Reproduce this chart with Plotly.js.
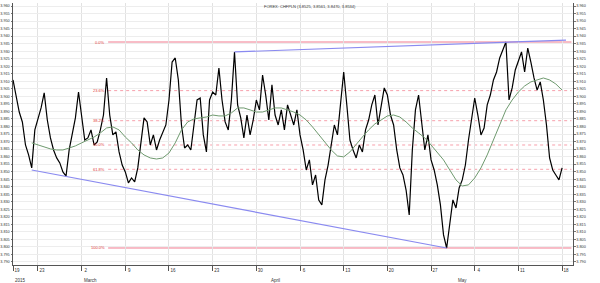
<!DOCTYPE html>
<html>
<head>
<meta charset="utf-8">
<script src="https://cdn.plot.ly/plotly-3.0.1.min.js"></script>
<style>html,body{margin:0;padding:0;background:#fff;}#chart{width:600px;height:283px;}</style>
</head>
<body>
<div id="chart"></div>
<script>
// ---- data ----
const seriesStart = "2015-02-19T00:00:00Z";   // first bar
const barHours = 12;                            // bar spacing
const close = [
3.9109,3.9009,3.8896,3.8830,3.8677,3.8611,3.8525,3.8777,3.8857,3.8923,
3.9023,3.8843,3.8724,3.8644,3.8591,3.8558,3.8498,3.8471,3.8644,3.8744,
3.8857,3.9029,3.8876,3.8710,3.8724,3.8777,3.8677,3.8697,3.8777,3.8876,
3.9122,3.8876,3.8744,3.8764,3.8631,3.8544,3.8498,3.8425,3.8458,3.8432,
3.8525,3.8710,3.8857,3.8830,3.8677,3.8744,3.8644,3.8710,3.8764,3.8810,
3.8976,3.9228,3.9255,3.9109,3.8810,3.8657,3.8677,3.8644,3.8810,3.8976,
3.8989,3.8744,3.8631,3.8976,3.9029,3.9009,3.9188,3.8976,3.8830,3.8777,
3.8976,3.9295,3.8943,3.8857,3.8724,3.8876,3.8744,3.8843,3.8976,3.8910,
3.9142,3.9009,3.8843,3.9076,3.8876,3.8810,3.8910,3.8777,3.8943,3.8876,
3.8810,3.8910,3.8744,3.8644,3.8511,3.8578,3.8412,3.8478,3.8312,3.8279,
3.8445,3.8544,3.8677,3.8810,3.8744,3.8943,3.9162,3.8943,3.8710,3.8644,
3.8591,3.8677,3.8631,3.8777,3.8843,3.8943,3.9009,3.8810,3.8943,3.9056,
3.9009,3.8876,3.8810,3.8644,3.8525,3.8478,3.8378,3.8212,3.8644,3.8910,
3.9009,3.8843,3.8644,3.8744,3.8578,3.8511,3.8412,3.8279,3.8080,3.7993,
3.8146,3.8312,3.8259,3.8392,3.8445,3.8544,3.8710,3.8857,3.8989,3.8876,
3.8744,3.8790,3.8943,3.9009,3.9109,3.9162,3.9255,3.9308,3.9361,3.8976,
3.9056,3.9175,3.9242,3.9295,3.9162,3.9321,3.9228,3.9122,3.9042,3.9096,
3.8976,3.8810,3.8591,3.8511,3.8478,3.8445,3.8525
];
const smaStart = "2015-02-22T00:00:00Z";
const smaHours = 24;
const sma = [
3.8691,3.8677,3.8664,3.8651,3.8644,3.8644,3.8657,3.8671,3.8691,3.8710,
3.8730,3.8757,3.8790,3.8797,3.8777,3.8730,3.8691,3.8644,3.8611,3.8591,
3.8584,3.8591,3.8624,3.8691,3.8777,3.8830,3.8850,3.8857,3.8863,3.8876,
3.8870,3.8870,3.8890,3.8923,3.8923,3.8910,3.8896,3.8896,3.8910,3.8923,
3.8923,3.8910,3.8896,3.8876,3.8843,3.8797,3.8744,3.8691,3.8644,3.8604,
3.8598,3.8631,3.8677,3.8730,3.8777,3.8817,3.8843,3.8870,3.8876,3.8863,
3.8830,3.8790,3.8757,3.8724,3.8677,3.8631,3.8578,3.8511,3.8445,3.8405,
3.8412,3.8458,3.8525,3.8611,3.8710,3.8810,3.8910,3.8976,3.9029,3.9069,
3.9096,3.9109,3.9122,3.9109,3.9082,3.9042
];
const lowerTrendDates = ["2015-02-22 00:00", "2015-04-29 12:00"];
const lowerTrendPrices = [3.8511, 3.7993];
const upperTrendDates = ["2015-03-26 12:00", "2015-05-18 15:00"];
const upperTrendPrices = [3.9295, 3.9374];
const fibHigh = 3.9361, fibLow = 3.7993;
const fibPct = [0, 23.6, 38.2, 50.0, 61.8, 100.0];
const fibLabels = ["0.0%", "23.6%", "38.2%", "50.0%", "61.8%", "100.0%"];
const fibFrom = "2015-03-06 06:00", fibTo = "2015-05-19 12:00";
const tickDates = ["2015-02-19","2015-02-23","2015-03-02","2015-03-09","2015-03-16","2015-03-23","2015-03-30",
  "2015-04-06","2015-04-13","2015-04-20","2015-04-27","2015-05-04","2015-05-11","2015-05-18"];
const tickLabels = ["19","23","2","9","16","23","30","6","13","20","27","4","11","18"];
const periodDates = ["2015-02-19","2015-03-02","2015-04-01","2015-05-01"];
const periodLabels = ["2015","March","April","May"];
const titleText = "FOREX: CHFPLN (3.8525, 3.8561, 3.8470, 3.8534)";

// ---- build ----
function dates(start, hours, n) {
  const t0 = Date.parse(start), out = [];
  for (let i = 0; i < n; i++) out.push(new Date(t0 + i * hours * 3600000).toISOString().slice(0,16).replace('T',' '));
  return out;
}
const xClose = dates(seriesStart, barHours, close.length);
const xSma = dates(smaStart, smaHours, sma.length);

const traces = [
  {x: xClose, y: close, type: 'scatter', mode: 'lines', line: {color: '#000', width: 1.2}, hoverinfo: 'skip'},
  {x: xSma, y: sma, type: 'scatter', mode: 'lines', line: {color: '#6f9a6f', width: 1}, yaxis: 'y2', hoverinfo: 'skip'},
  {x: lowerTrendDates, y: lowerTrendPrices, type: 'scatter', mode: 'lines', line: {color: '#8a8af0', width: 1.2}, hoverinfo: 'skip'},
  {x: upperTrendDates, y: upperTrendPrices, type: 'scatter', mode: 'lines', line: {color: '#8a8af0', width: 1.2}, hoverinfo: 'skip'}
];

const shapes = [], annotations = [];
fibPct.forEach((p, i) => {
  const lvl = fibHigh - (fibHigh - fibLow) * p / 100;
  const solid = (p === 0 || p === 100);
  shapes.push({type: 'line', xref: 'x', yref: 'y', x0: fibFrom, x1: fibTo, y0: lvl, y1: lvl,
    line: {color: solid ? '#f07a8e' : '#f7a0ac', width: 1, dash: solid ? 'solid' : 'dot'}, layer: 'below'});
  annotations.push({xref: 'x', yref: 'y', x: fibFrom, y: lvl, text: fibLabels[i], showarrow: false,
    xanchor: 'right', yanchor: 'middle', xshift: -1, font: {size: 4, color: '#e03a3a', family: 'Liberation Sans'}});
});
periodDates.forEach((d, i) => {
  annotations.push({xref: 'x', yref: 'paper', x: d, y: 0, yshift: -11, text: periodLabels[i], showarrow: false,
    xanchor: 'left', yanchor: 'top', font: {size: 4.5, color: '#333', family: 'Liberation Sans'}});
});
annotations.push({xref: 'paper', yref: 'paper', x: 0.53, y: 1, yshift: 1, text: titleText, showarrow: false,
  xanchor: 'center', yanchor: 'top', font: {size: 4, color: '#333', family: 'Liberation Sans'}});

const yBase = {range: [3.788, 3.962], dtick: 0.005, tick0: 3.79, tickformat: '.3f', showgrid: true,
  gridcolor: '#ededed', gridwidth: 1, zeroline: false, showline: true, linecolor: '#555', linewidth: 1,
  ticks: 'outside', ticklen: 1.5, tickcolor: '#777', ticklabelstandoff: 0,
  tickfont: {size: 3.8, color: '#333', family: 'Liberation Sans'}, fixedrange: true};

const layout = {
  width: 600, height: 283,
  margin: {l: 13, r: 27, t: 3, b: 18},
  paper_bgcolor: '#fff', plot_bgcolor: '#fff',
  showlegend: false,
  xaxis: {type: 'date', range: ["2015-02-19 00:00", "2015-05-19 18:00"], tickvals: tickDates, ticktext: tickLabels,
    showgrid: true, gridcolor: '#e2e2e2', gridwidth: 1, zeroline: false, showline: true, linecolor: '#555', linewidth: 1,
    ticks: 'outside', ticklen: 5, tickcolor: '#555', ticklabelshift: 4, ticklabelstandoff: -4,
    tickfont: {size: 4.5, color: '#333', family: 'Liberation Sans'}, fixedrange: true},
  yaxis: Object.assign({}, yBase, {side: 'left'}),
  yaxis2: Object.assign({}, yBase, {side: 'right', overlaying: 'y', anchor: 'x', matches: 'y', showgrid: false}),
  shapes: shapes,
  annotations: annotations
};

Plotly.newPlot('chart', traces, layout, {staticPlot: true, displayModeBar: false});
</script>
</body>
</html>
